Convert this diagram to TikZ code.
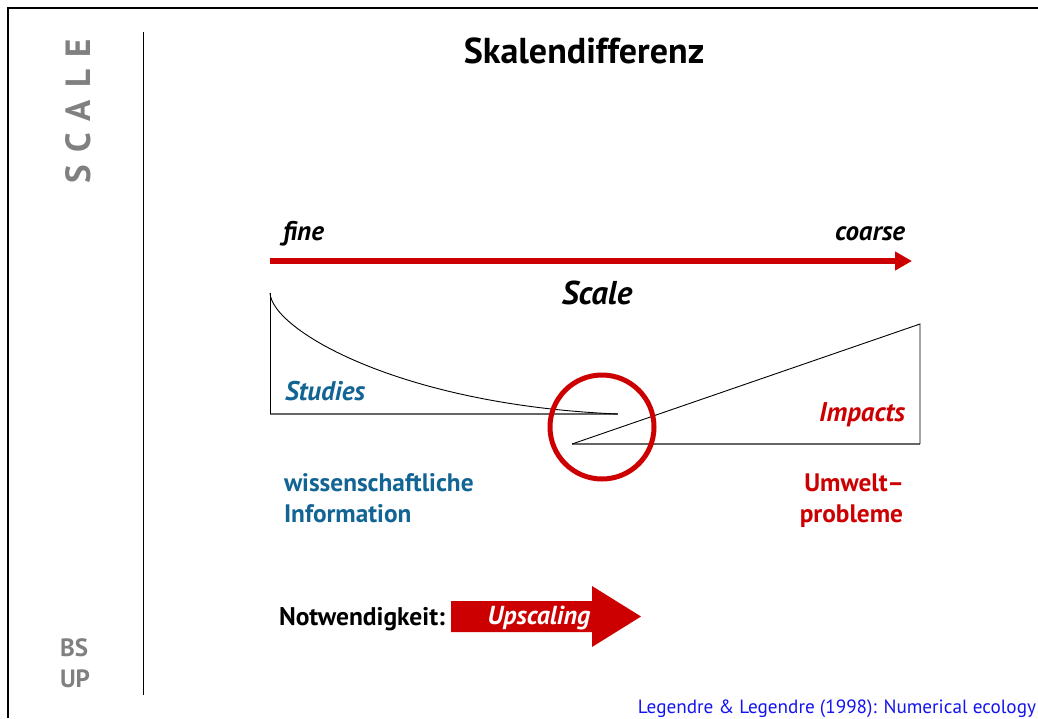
\documentclass[tikz,border=0pt]{standalone}
\usepackage{fontspec}
\setmainfont{PT Sans}
\usetikzlibrary{arrows.meta}
\definecolor{rd}{RGB}{204,0,0}
\definecolor{bl}{RGB}{18,100,148}
\definecolor{cite}{RGB}{20,20,240}
\definecolor{gr}{RGB}{128,128,128}
\begin{document}
\begin{tikzpicture}[x=1pt,y=-1pt,
  lbl/.style={inner sep=0pt,outer sep=0pt},
  shape line/.style={black,line width=0.9pt},
  base line/.style={gray!80!black,line width=1.3pt}]
\useasboundingbox (0,0) rectangle (1038,718);
% frame
\draw[line width=2.2pt] (8,718) -- (8,8) -- (1038,8);
\draw[line width=0.8pt] (143,32) -- (143,695);
% side labels
\node[lbl,rotate=90,anchor=base,text=gr,font=\fontsize{35}{35}\selectfont\bfseries\addfontfeature{LetterSpace=36}] (scale) at (90,111) {SCALE};
\node[lbl,text=gr,anchor=base west,font=\fontsize{25}{25}\selectfont\bfseries] (bs) at (60,656) {BS};
\node[lbl,text=gr,anchor=base west,font=\fontsize{25}{25}\selectfont\bfseries] (up) at (60,687) {UP};
% title
\node[lbl,anchor=base,font=\fontsize{36}{36}\selectfont\bfseries] (title) at (584,63) {Skalendifferenz};
% scale axis
\node[lbl,anchor=base west,font=\fontsize{27}{27}\selectfont\bfseries\itshape] (fine) at (283,240) {fine};
\node[lbl,anchor=base east,font=\fontsize{27}{27}\selectfont\bfseries\itshape] (coarse) at (905,240) {coarse};
\coordinate (axL) at (270,261);
\coordinate (axR) at (912,261);
\draw[rd,line width=5.5pt,-{Triangle[length=17pt,width=18pt]}] (axL) -- (axR);
\node[lbl,anchor=base,font=\fontsize{33}{33}\selectfont\bfseries\itshape] (scalelbl) at (597,304) {Scale};
% studies shape
\coordinate (sTop) at (270,293);
\coordinate (sBot) at (270,414);
\coordinate (sEnd) at (618,414);
\draw[base line] (sBot) -- (sEnd);
\draw[shape line] (sTop) -- (sBot);
\draw[shape line] (sTop) .. controls (272,330) and (400,405) .. (sEnd);
\node[lbl,anchor=base west,text=bl,font=\fontsize{27}{27}\selectfont\bfseries\itshape] (studies) at (285,400) {Studies};
% impacts shape
\coordinate (iL) at (572,444);
\coordinate (iR) at (920,444);
\coordinate (iTop) at (920,324);
\draw[base line] (iL) -- (iR);
\draw[shape line] (iL) -- (iTop) -- (iR);
\node[lbl,anchor=base east,text=rd,font=\fontsize{27}{27}\selectfont\bfseries\itshape] (impacts) at (905,421) {Impacts};
% circle
\node[draw=rd,line width=5pt,circle,minimum size=104pt,inner sep=0pt] (circ) at (602,427) {};
% info labels
\node[lbl,anchor=base west,text=bl,font=\fontsize{25.3}{25.3}\selectfont\bfseries] (wiss) at (284,491) {wissenschaftliche};
\node[lbl,anchor=base west,text=bl,font=\fontsize{25.3}{25.3}\selectfont\bfseries] (info) at (284,522) {Information};
\node[lbl,anchor=base east,text=rd,font=\fontsize{25.3}{25.3}\selectfont\bfseries] (umw) at (904,491) {Umwelt–};
\node[lbl,anchor=base east,text=rd,font=\fontsize{25.3}{25.3}\selectfont\bfseries] (prob) at (903,522) {probleme};
% upscaling
\node[lbl,anchor=base west,font=\fontsize{25.5}{25.5}\selectfont\bfseries] (notw) at (279,625) {Notwendigkeit:};
\fill[rd] (451,601) -- (592,601) -- (592,586) -- (641,616.5) -- (592,647) -- (592,632) -- (451,632) -- cycle;
\node[lbl,anchor=base,text=white,font=\fontsize{26}{26}\selectfont\bfseries\itshape] (upsc) at (539,624) {Upscaling};
% citation
\node[lbl,anchor=base east,text=cite,font=\fontsize{19.2}{19.2}\selectfont] (cit) at (1036,713) {Legendre \& Legendre (1998): Numerical ecology};
\end{tikzpicture}
\end{document}
